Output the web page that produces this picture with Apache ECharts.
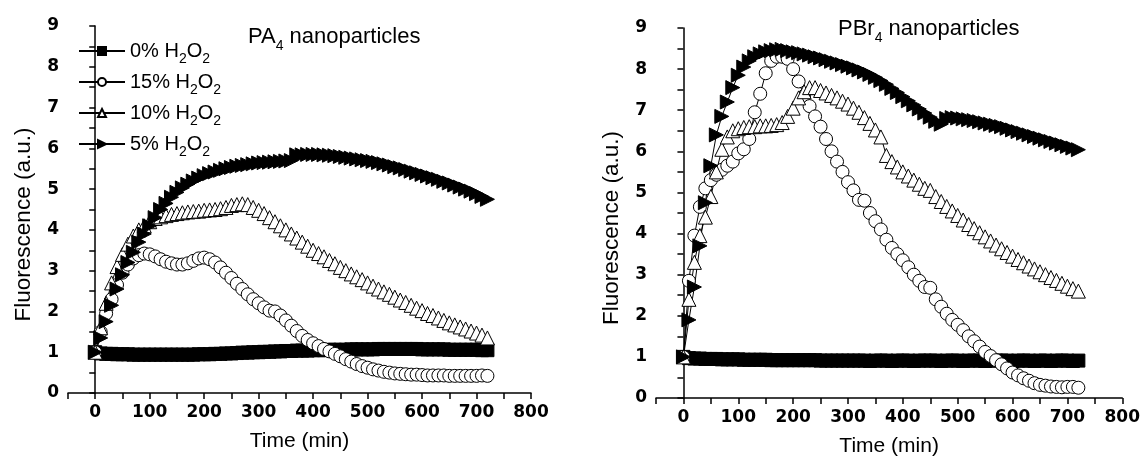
<!DOCTYPE html>
<html>
<head>
<meta charset="utf-8">
<script src="https://cdn.jsdelivr.net/npm/echarts@6/dist/echarts.min.js"></script>
<style>
html,body{margin:0;padding:0;background:#fff;}
#c{width:1143px;height:466px;}
</style>
</head>
<body>
<div id="c"></div>
<script>
// time points (min)
const T = [0,10,20,30,40,50,60,70,80,90,100,110,120,130,140,150,160,170,180,190,200,210,220,230,240,250,260,270,280,290,300,310,320,330,340,350,360,370,380,390,400,410,420,430,440,450,460,470,480,490,500,510,520,530,540,550,560,570,580,590,600,610,620,630,640,650,660,670,680,690,700,710,720];
const names = ['0% H2O2','15% H2O2','10% H2O2','5% H2O2'];

// PA4 nanoparticles
const L0 = [1.00,0.97,0.96,0.96,0.95,0.95,0.95,0.94,0.94,0.94,
0.94,0.94,0.94,0.94,0.94,0.94,0.94,0.94,0.94,0.95,
0.95,0.95,0.96,0.96,0.97,0.97,0.98,0.99,0.99,1.00,
1.00,1.01,1.01,1.02,1.02,1.03,1.03,1.04,1.04,1.04,
1.05,1.05,1.05,1.06,1.06,1.06,1.06,1.07,1.07,1.07,
1.07,1.07,1.08,1.08,1.08,1.08,1.08,1.08,1.08,1.08,
1.07,1.07,1.07,1.07,1.07,1.06,1.06,1.06,1.06,1.06,
1.06,1.05,1.05];
const L15 = [1.00,1.50,1.95,2.30,2.65,2.95,3.15,3.30,3.38,3.42,
3.40,3.35,3.28,3.22,3.18,3.15,3.15,3.18,3.24,3.30,
3.32,3.28,3.20,3.08,2.95,2.82,2.68,2.55,2.42,2.30,
2.20,2.10,2.02,2.00,1.90,1.78,1.65,1.52,1.40,1.30,
1.22,1.15,1.08,1.02,0.96,0.90,0.83,0.77,0.71,0.66,
0.62,0.58,0.55,0.52,0.50,0.48,0.47,0.46,0.45,0.45,
0.44,0.43,0.43,0.43,0.43,0.42,0.42,0.42,0.42,0.42,
0.42,0.43,0.42];
const L10 = [1.00,1.60,2.20,2.70,3.10,3.40,3.65,3.85,4.00,4.10,
4.20,4.28,4.32,4.35,4.38,4.40,4.42,4.44,4.45,4.46,
4.48,4.49,4.50,4.52,4.55,4.60,4.62,4.64,4.62,4.55,
4.48,4.40,4.30,4.20,4.10,4.00,3.90,3.80,3.70,3.60,
3.50,3.42,3.34,3.25,3.17,3.08,3.00,2.92,2.85,2.78,
2.70,2.62,2.55,2.48,2.42,2.35,2.28,2.22,2.15,2.08,
2.02,1.95,1.90,1.84,1.78,1.72,1.67,1.62,1.57,1.52,
1.47,1.42,1.35];
const L5 = [1.00,1.35,1.75,2.15,2.55,2.90,3.20,3.45,3.70,3.90,
4.10,4.30,4.50,4.65,4.80,4.92,5.03,5.12,5.20,5.27,
5.33,5.38,5.42,5.46,5.50,5.53,5.56,5.58,5.60,5.62,
5.64,5.65,5.66,5.67,5.68,5.69,5.70,5.84,5.84,5.85,
5.85,5.85,5.84,5.83,5.82,5.80,5.78,5.76,5.74,5.72,
5.70,5.68,5.65,5.62,5.59,5.55,5.52,5.48,5.44,5.40,
5.36,5.32,5.28,5.24,5.19,5.15,5.10,5.05,5.00,4.95,
4.89,4.82,4.75];

// PBr4 nanoparticles
const R0 = [1.00,0.97,0.96,0.96,0.95,0.95,0.95,0.94,0.94,0.94,
0.94,0.93,0.93,0.93,0.93,0.93,0.92,0.92,0.92,0.92,
0.92,0.92,0.92,0.92,0.92,0.91,0.91,0.91,0.91,0.91,
0.91,0.91,0.91,0.91,0.90,0.91,0.91,0.91,0.90,0.91,
0.91,0.91,0.90,0.91,0.91,0.91,0.91,0.90,0.91,0.91,
0.91,0.90,0.91,0.91,0.91,0.90,0.91,0.91,0.91,0.91,
0.90,0.91,0.91,0.91,0.90,0.91,0.91,0.90,0.91,0.91,
0.91,0.90,0.91];
const R15 = [1.00,2.85,3.95,4.65,5.10,5.30,5.43,5.55,5.65,5.75,
5.95,6.05,6.30,6.95,7.40,7.90,8.20,8.30,8.30,8.25,
8.00,7.70,7.35,7.10,6.85,6.60,6.30,6.00,5.75,5.50,
5.25,5.05,4.82,4.80,4.50,4.30,4.10,3.85,3.65,3.50,
3.35,3.18,3.00,2.85,2.70,2.68,2.40,2.22,2.05,1.90,
1.78,1.65,1.50,1.38,1.25,1.12,1.02,0.92,0.82,0.72,
0.62,0.55,0.48,0.42,0.36,0.32,0.30,0.28,0.27,0.26,
0.27,0.27,0.25];
const R10 = [1.00,2.40,3.30,3.95,4.40,4.90,5.50,6.05,6.35,6.50,
6.55,6.58,6.60,6.60,6.62,6.62,6.63,6.65,6.70,6.85,
7.05,7.30,7.45,7.55,7.55,7.48,7.42,7.36,7.30,7.22,
7.15,7.05,6.95,6.82,6.68,6.52,6.35,5.90,5.75,5.62,
5.50,5.40,5.30,5.20,5.10,5.05,4.90,4.78,4.66,4.55,
4.44,4.33,4.22,4.12,4.02,3.92,3.82,3.72,3.63,3.54,
3.45,3.37,3.29,3.21,3.14,3.07,3.00,2.93,2.86,2.79,
2.72,2.66,2.60];
const R5 = [1.00,1.90,2.70,3.70,4.75,5.65,6.40,6.85,7.20,7.55,
7.85,8.05,8.20,8.30,8.37,8.42,8.45,8.47,8.48,8.45,
8.42,8.40,8.37,8.34,8.30,8.27,8.23,8.19,8.15,8.11,
8.07,8.03,7.98,7.93,7.87,7.80,7.72,7.63,7.53,7.43,
7.33,7.23,7.13,7.03,6.93,6.83,6.73,6.66,6.80,6.82,
6.81,6.79,6.77,6.75,6.72,6.69,6.66,6.63,6.60,6.56,
6.52,6.48,6.44,6.40,6.36,6.32,6.28,6.24,6.20,6.16,
6.12,6.08,6.04];

const xTicks = [0,100,200,300,400,500,600,700,800];
const yTicks = [0,1,2,3,4,5,6,7,8,9];

const FONT = 'Liberation Sans';
const TICKFONT = 'DejaVu Sans';
const chart = echarts.init(document.getElementById('c'), null, {renderer:'canvas'});

function xAxis(gi){
  return {
    gridIndex: gi, type:'value', min:-50, max:800, interval:50,
    name:'Time (min)', nameLocation:'middle', nameGap:38,
    nameTextStyle:{fontFamily:FONT, fontSize:21, color:'#000'},
    axisLine:{show:true, onZero:false, lineStyle:{color:'#000', width:1.5}},
    axisTick:{show:true, length:6, lineStyle:{color:'#000', width:1.5}},
    axisLabel:{margin:11, fontFamily:TICKFONT, fontWeight:'bold', fontSize:17, color:'#000',
      formatter: v => xTicks.indexOf(v) >= 0 ? String(v) : ''},
    splitLine:{show:false}
  };
}
function yAxis(gi){
  return {
    gridIndex: gi, type:'value', min:0, max:9, interval:0.5,
    name:'Fluorescence (a.u.)', nameLocation:'middle', nameGap:33,
    nameTextStyle:{fontFamily:FONT, fontSize:22.5, color:'#000', padding:[0,30,0,0]},
    axisLine:{show:true, lineStyle:{color:'#000', width:1.5}},
    axisTick:{show:true, length:6, lineStyle:{color:'#000', width:1.5}},
    axisLabel:{margin:9, fontFamily:TICKFONT, fontWeight:'bold', fontSize:17, color:'#000',
      formatter: v => yTicks.indexOf(v) >= 0 ? String(v) : ''},
    splitLine:{show:false}
  };
}
const styles = [
  {symbol:'rect', size:13, fill:'#000', rot:0},
  {symbol:'circle', size:13, fill:'#fff', rot:0},
  {symbol:'triangle', size:14, fill:'#fff', rot:0},
  {symbol:'triangle', size:14, fill:'#000', rot:-90}
];
function mk(name, idx, arr, gi){
  const s = styles[idx];
  return {
    name: name, type:'line', xAxisIndex:gi, yAxisIndex:gi,
    data: T.map((t,i)=>[t, arr[i]]),
    symbol: s.symbol, symbolSize: s.size, symbolRotate: s.rot, showAllSymbol:true,
    lineStyle:{color:'#000', width:1},
    itemStyle:{color:s.fill, borderColor:'#000', borderWidth:1},
    emphasis:{disabled:true}, animation:false
  };
}
const rich = {
  a:{fontFamily:FONT, fontSize:20, color:'#000', lineHeight:22},
  s:{fontFamily:FONT, fontSize:14, color:'#000', lineHeight:14, padding:[16,0,0,0]}
};
const richT = {
  a:{fontFamily:FONT, fontSize:22, fontWeight:'normal', color:'#000', lineHeight:24},
  s:{fontFamily:FONT, fontSize:14, fontWeight:'normal', color:'#000', lineHeight:14, padding:[18,0,0,0]}
};
const legendLabels = {
  '0% H2O2':'{a|0% H}{s|2}{a|O}{s|2}',
  '15% H2O2':'{a|15% H}{s|2}{a|O}{s|2}',
  '10% H2O2':'{a|10% H}{s|2}{a|O}{s|2}',
  '5% H2O2':'{a|5% H}{s|2}{a|O}{s|2}'
};

const option = {
  backgroundColor:'#fff',
  animation:false,
  title:[
    {text:'{a|PA}{s|4}{a| nanoparticles}', left:243, top:20, textStyle:{fontWeight:'normal', rich:richT}},
    {text:'{a|PBr}{s|4}{a| nanoparticles}', left:833, top:12, textStyle:{fontWeight:'normal', rich:richT}}
  ],
  legend:{
    data:names, orient:'vertical', left:73, top:31, itemGap:1,
    itemWidth:46, itemHeight:10,
    formatter: n => legendLabels[n],
    textStyle:{rich:rich},
    selectedMode:false
  },
  grid:[
    {left:68, top:26, width:463, height:367},
    {left:656, top:28, width:469, height:370}
  ],
  xAxis:[xAxis(0), xAxis(1)],
  yAxis:[yAxis(0), yAxis(1)],
  series:[
    mk(names[0],0,L0,0), mk(names[1],1,L15,0), mk(names[2],2,L10,0), mk(names[3],3,L5,0),
    mk(names[0],0,R0,1), mk(names[1],1,R15,1), mk(names[2],2,R10,1), mk(names[3],3,R5,1)
  ]
};
chart.setOption(option);
</script>
</body>
</html>
